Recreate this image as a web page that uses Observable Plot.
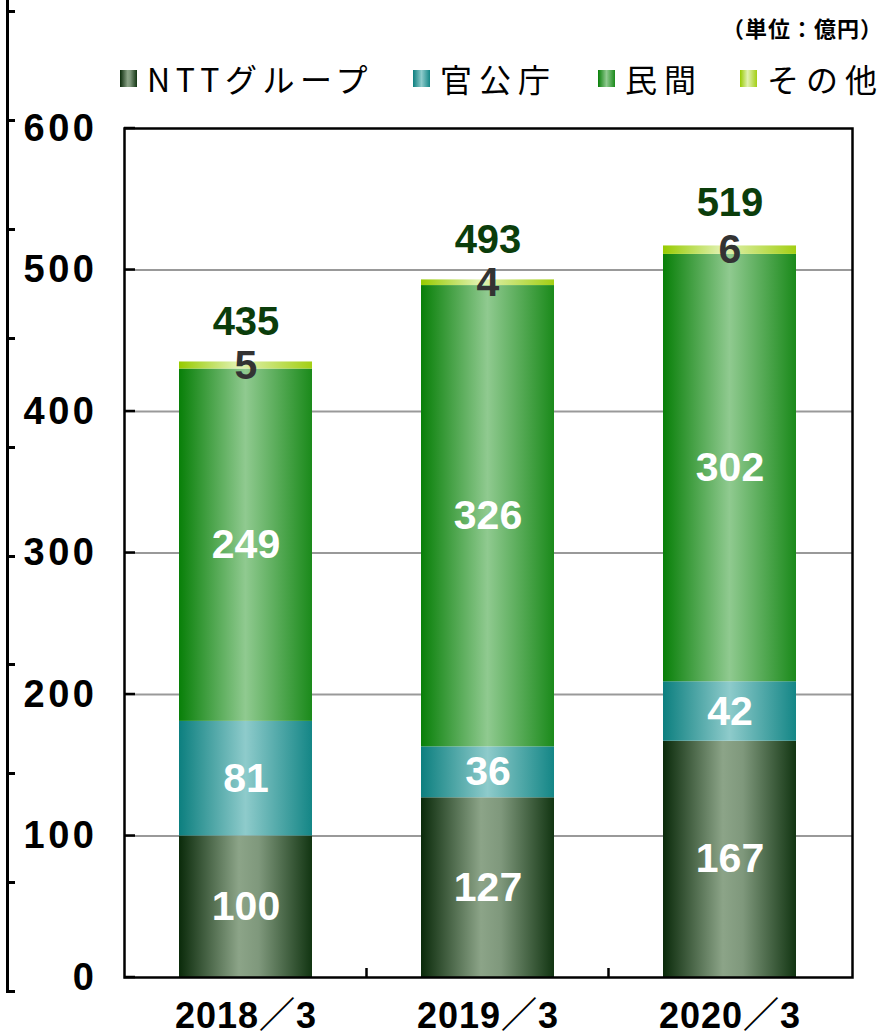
<!DOCTYPE html>
<html>
<head>
<meta charset="utf-8">
<script src="https://cdn.jsdelivr.net/npm/d3@7"></script>
<script src="https://cdn.jsdelivr.net/npm/@observablehq/plot@0.6"></script>
<style>
  html, body { margin: 0; padding: 0; background: #fff; }
  body { width: 887px; height: 1036px; position: relative; overflow: hidden;
         font-family: "Liberation Sans", "Noto Sans CJK JP", sans-serif; }
  #header { position: relative; height: 100px; }
  #unit { position: absolute; left: 722px; top: 11px; font-size: 22px; font-weight: bold;
          font-family: "Noto Sans CJK JP", sans-serif; color: #000; letter-spacing: 1px; white-space: nowrap; }
  .item { position: absolute; top: 57px; display: flex; align-items: center; height: 42px; }
  .sw { width: 17px; height: 17px; margin-right: 10px; }
  .lt { font-size: 32px; color: #000; font-family: "Noto Sans CJK JP", sans-serif; white-space: nowrap; }
  #artifact { position: absolute; left: 6px; top: 0; width: 8px; height: 993px;
              border-left: 3px solid #000;
              background: repeating-linear-gradient(to bottom, #000 10.1px, #000 13px, transparent 13px, transparent 119px);
              background-size: 6px 100%; background-repeat: no-repeat; }
  #chart svg { overflow: visible; }
  svg g[aria-label="y-axis tick label"] text { letter-spacing: 3.5px; }
  svg g[aria-label="x-axis tick label"] text { letter-spacing: 1px; }
</style>
</head>
<body>
<div id="artifact"></div>
<div id="header">
  <div id="unit">（単位：億円）</div>
  <div id="legend"></div>
</div>
<div id="chart"></div>
<script>
// ---- data ----
const years = ["2018／3", "2019／3", "2020／3"];
const seriesNames = ["NTTグループ", "官公庁", "民間", "その他"];
const nttValues = [100, 127, 167];
const govValues = [81, 36, 42];
const privValues = [249, 326, 302];
const otherValues = [5, 4, 6];
const totals = [435, 493, 519];
const yTicks = [0, 100, 200, 300, 400, 500, 600];

// gradient styles (horizontal: dark edges, light centre)
const gradStops = {
  "NTTグループ": [[0, "#0a2a0a"], [0.45, "#8ca488"], [0.6, "#7f987c"], [1, "#123512"]],
  "官公庁": [[0, "#0c7f7f"], [0.5, "#8ecbcb"], [1, "#148686"]],
  "民間": [[0, "#087f08"], [0.5, "#90ca90"], [1, "#1b8a1b"]],
  "その他": [[0, "#97cb00"], [0.45, "#e2f2b4"], [1, "#a3cf14"]]
};
const gradIds = {"NTTグループ": "g-ntt", "官公庁": "g-gov", "民間": "g-priv", "その他": "g-oth"};
const labelColor = {"NTTグループ": "white", "官公庁": "white", "民間": "white", "その他": "#333333"};

const valuesBySeries = [nttValues, govValues, privValues, otherValues];
const rows = [];
years.forEach((y, i) => {
  seriesNames.forEach((s, j) => {
    rows.push({year: y, series: s, value: valuesBySeries[j][i]});
  });
});
const totalRows = years.map((y, i) => ({year: y, total: totals[i]}));

// ---- legend ----
const legendLefts = [120, 413, 598, 740];
const legendSpacing = [5.5, 7, 7, 7];
const legend = document.getElementById("legend");
seriesNames.forEach((s, j) => {
  const it = document.createElement("div");
  it.className = "item";
  it.style.left = legendLefts[j] + "px";
  const sw = document.createElement("div");
  sw.className = "sw";
  sw.style.background = "linear-gradient(to right, " +
    gradStops[s].map(([o, c]) => `${c} ${o * 100}%`).join(", ") + ")";
  const t = document.createElement("span");
  t.className = "lt";
  t.style.letterSpacing = legendSpacing[j] + "px";
  t.textContent = s;
  it.appendChild(sw); it.appendChild(t);
  legend.appendChild(it);
});

// ---- chart ----
const chart = Plot.plot({
  width: 887,
  height: 936,
  marginTop: 28,
  marginBottom: 59,
  marginLeft: 124,
  marginRight: 35,
  style: {background: "transparent", fontFamily: "'Liberation Sans', 'Noto Sans CJK JP', sans-serif", overflow: "visible"},
  x: {domain: years, paddingInner: 0.45, paddingOuter: 0.225, label: null},
  y: {domain: [0, 600], label: null},
  color: {type: "identity"},
  marks: [
    Plot.gridY(yTicks.filter(v => v > 0 && v < 600), {stroke: "#999", strokeOpacity: 1, strokeWidth: 2}),
    Plot.barY(rows, {x: "year", y: "value", z: "series", fill: d => `url(#${gradIds[d.series]})`}),
    Plot.frame({stroke: "#000", strokeWidth: 2.5}),
    Plot.axisY({ticks: yTicks, tickSize: 0, tickPadding: 27, fontSize: 38, fontWeight: "bold", fill: "#000"}),
    Plot.axisX({tickSize: 0, tickPadding: 25, fontSize: 36, fontWeight: "bold", fill: "#000"}),
    Plot.text(rows, Plot.stackY({
      x: "year", y: "value", z: "series",
      text: d => String(d.value),
      fill: d => labelColor[d.series],
      fontSize: 41,
      fontWeight: "bold",
      fontFamily: d => d.series === "その他" ? "'Liberation Sans Narrow', 'Liberation Sans', sans-serif" : "'Liberation Sans', sans-serif"
    })),
    Plot.text(totalRows, {
      x: "year", y: "total", text: d => String(d.total), dy: -40,
      fill: "#0b3d0b", fontSize: 40, fontWeight: "bold",
      fontFamily: "'Liberation Sans Narrow', 'Liberation Sans', sans-serif"
    })
  ]
});

// gradient definitions
const svg = d3.select(chart);
const defs = svg.insert("defs", ":first-child");
seriesNames.forEach(s => {
  const g = defs.append("linearGradient").attr("id", gradIds[s])
    .attr("x1", "0%").attr("x2", "100%").attr("y1", "0%").attr("y2", "0%");
  gradStops[s].forEach(([o, c]) => g.append("stop").attr("offset", o).attr("stop-color", c));
});

// inner ticks: y ticks on left frame, category separators on bottom frame
const xs = chart.scale("x");
const ys = chart.scale("y");
const x0 = xs.range[0];
const yBase = ys.apply(0);
const tickG = svg.append("g").attr("stroke", "#000").attr("stroke-width", 2.5);
yTicks.forEach(v => {
  tickG.append("line").attr("x1", x0).attr("x2", x0 + 11)
    .attr("y1", ys.apply(v)).attr("y2", ys.apply(v));
});
years.slice(1).forEach(y => {
  const bx = xs.apply(y) - (xs.step - xs.bandwidth) / 2;
  tickG.append("line").attr("x1", bx).attr("x2", bx).attr("y1", yBase).attr("y2", yBase - 9);
});

document.getElementById("chart").appendChild(chart);
</script>
</body>
</html>
